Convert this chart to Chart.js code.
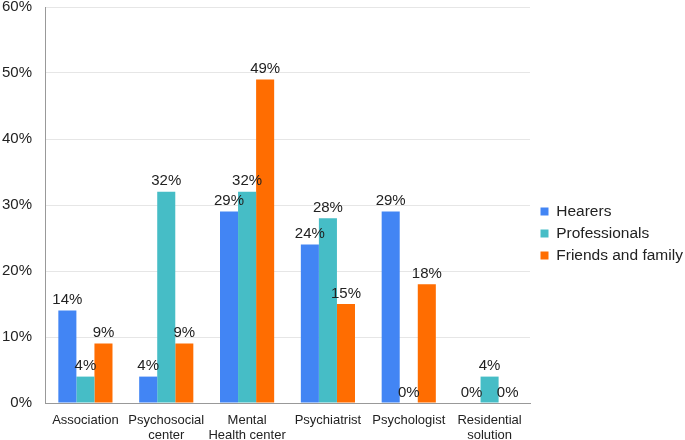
<!DOCTYPE html>
<html><head><meta charset="utf-8">
<script src="https://cdn.jsdelivr.net/npm/chart.js@4/dist/chart.umd.min.js"></script>
<style>html,body{margin:0;padding:0;background:#fff}#wrap{width:685px;height:440px}</style>
</head><body><div id="wrap"><canvas id="c" width="685" height="440"></canvas></div>
<script>
const categories = [["Association"], ["Psychosocial", "center"], ["Mental", "Health center"], ["Psychiatrist"], ["Psychologist"], ["Residential", "solution"]];
const seriesNames = ["Hearers", "Professionals", "Friends and family"];
const hearers = [14, 4, 29, 24, 29, 0];
const professionals = [4, 32, 32, 28, 0, 4];
const friendsFamily = [9, 9, 49, 15, 18, 0];
const yTicks = [0, 10, 20, 30, 40, 50, 60];
const colors = ["#4285F4", "#46BDC6", "#FF6D01"];
const FONT = '"Liberation Sans", Arial, sans-serif';

const labelPlugin = {
  id: 'barLabels',
  afterLayout(chart) {
    const lg = chart.legend;
    if (lg) { lg.left += 4; lg.right += 4; lg.top += 10; lg.bottom += 10; }
  },
  afterDatasetsDraw(chart) {
    const ctx = chart.ctx;
    ctx.save();
    ctx.font = '15px ' + FONT;
    ctx.fillStyle = '#222';
    ctx.textAlign = 'center';
    ctx.textBaseline = 'bottom';
    chart.data.datasets.forEach((ds, i) => {
      const meta = chart.getDatasetMeta(i);
      meta.data.forEach((bar, j) => {
        ctx.fillText(ds.data[j] + '%', bar.x, bar.y - 3);
      });
    });
    ctx.restore();
  }
};

new Chart(document.getElementById('c'), {
  type: 'bar',
  data: {
    labels: categories,
    datasets: [
      { label: seriesNames[0], data: hearers, backgroundColor: colors[0] },
      { label: seriesNames[1], data: professionals, backgroundColor: colors[1] },
      { label: seriesNames[2], data: friendsFamily, backgroundColor: colors[2] }
    ]
  },
  options: {
    responsive: false,
    animation: false,
    layout: { padding: { top: 7, right: 0, left: 0, bottom: 0 } },
    datasets: { bar: { categoryPercentage: 0.67, barPercentage: 1.0 } },
    plugins: {
      legend: {
        position: 'right',
        maxWidth: 155,
        labels: {
          boxWidth: 8, boxHeight: 8, padding: 6.5,
          color: '#222',
          font: { family: FONT, size: 15.5 }
        }
      },
      tooltip: { enabled: false }
    },
    scales: {
      x: {
        grid: { display: false, drawTicks: false },
        border: { display: true, color: '#999' },
        afterFit: (axis) => { axis.height = 37; axis.paddingLeft = 0; axis.paddingRight = 0; },
        ticks: { color: '#222', padding: 10, maxRotation: 0, autoSkip: false,
          font: { family: FONT, size: 13, lineHeight: 1.15 } }
      },
      y: {
        min: 0, max: 60,
        afterBuildTicks: (axis) => { axis.ticks = yTicks.map(v => ({ value: v })); },
        afterFit: (axis) => { axis.width = 45; axis.paddingTop = 0; axis.paddingBottom = 0; },
        grid: { color: '#e6e6e6', drawTicks: false },
        border: { display: true, color: '#999' },
        ticks: { color: '#222', padding: 13, callback: v => v + '%',
          font: { family: FONT, size: 15 } }
      }
    }
  },
  plugins: [labelPlugin]
});
</script></body></html>
